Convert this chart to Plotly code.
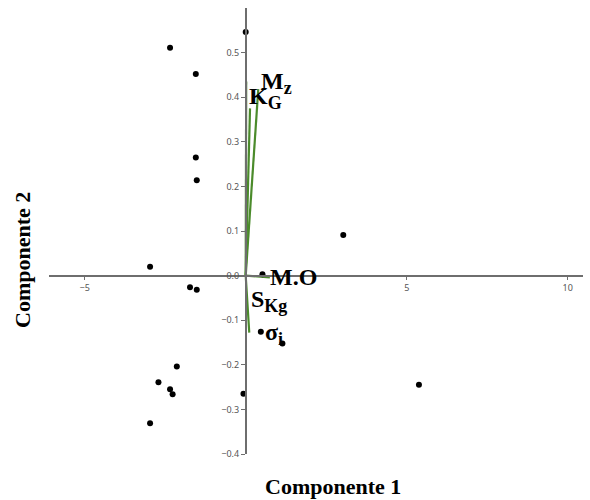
import plotly.graph_objects as go

# Scores (Componente 1, Componente 2)
score_x = [0.0, -2.35, -1.55, -1.55, -1.52, 3.03, -2.97, -1.73, -1.52, -2.14,
           -2.71, -2.35, -2.27, -2.97, -0.07, 0.52, 0.47, 1.14, 5.38]
score_y = [0.546, 0.511, 0.452, 0.265, 0.214, 0.091, 0.020, -0.026, -0.032, -0.204,
           -0.239, -0.255, -0.266, -0.331, -0.265, 0.003, -0.126, -0.152, -0.245]

# Loading vectors
load_names = ["Mz", "KG", "V", "M.O", "SKg"]
load_x = [0.39, 0.134, 0.015, 0.75, 0.11]
load_y = [0.418, 0.375, 0.435, -0.004, -0.128]

# Vector labels
SUB = "<sub><span style='font-size:18px'>{}</span></sub>"
label_text = ["<b>M" + SUB.format("z") + "</b>", "<b>K" + SUB.format("G") + "</b>",
              "<b>M.O</b>", "<b>S" + SUB.format("Kg") + "</b>",
              "<b>σ" + SUB.format("i") + "</b>"]
label_x = [0.42, 0.04, 0.70, 0.09, 0.55]
label_y = [0.432, 0.398, -0.004, -0.058, -0.131]

x_ticks = [-5, 5, 10]
y_ticks = [-0.4, -0.3, -0.2, -0.1, 0.0, 0.1, 0.2, 0.3, 0.4, 0.5]

XMIN, XMAX = -6.109, 10.475
YMIN, YMAX = -0.4, 0.6

fig = go.Figure()
GREEN = "#4b8b2b"
for n, lx, ly in zip(load_names, load_x, load_y):
    fig.add_trace(go.Scatter(x=[0, lx], y=[0, ly], mode="lines",
                             line=dict(color=GREEN, width=2.2), showlegend=False,
                             hoverinfo="skip"))

fig.add_trace(go.Scatter(x=score_x, y=score_y, mode="markers",
                         marker=dict(color="black", size=6), showlegend=False))

for t, lx, ly in zip(label_text, label_x, label_y):
    fig.add_annotation(x=lx, y=ly, text=t, showarrow=False, xanchor="left",
                       yanchor="middle",
                       font=dict(family="Liberation Serif", size=24, color="black"))

AX = "#6e6e6e"
fig.update_xaxes(range=[XMIN, XMAX], anchor="free",
                 position=(0 - YMIN) / (YMAX - YMIN),
                 showline=True, linecolor=AX, linewidth=1.6,
                 showgrid=False, zeroline=False,
                 tickvals=x_ticks, ticks="outside", ticklen=4, tickcolor=AX,
                 tickfont=dict(family="Noto Sans", size=9, color="#555"))
fig.update_yaxes(range=[YMIN, YMAX], anchor="free",
                 position=(0 - XMIN) / (XMAX - XMIN),
                 showline=True, linecolor=AX, linewidth=1.6,
                 showgrid=False, zeroline=False,
                 tickvals=y_ticks, tickformat=".1f", ticks="outside", ticklen=4,
                 tickcolor=AX,
                 tickfont=dict(family="Noto Sans", size=9, color="#555"))

fig.add_annotation(xref="paper", yref="paper", x=(333 - 49) / 534, y=-(486 - 454) / 446,
                   text="<b>Componente 1</b>", showarrow=False, xanchor="center",
                   yanchor="middle",
                   font=dict(family="Liberation Serif", size=22, color="black"))
fig.add_annotation(xref="paper", yref="paper", x=-(49 - 22) / 534, y=(454 - 260) / 446,
                   text="<b>Componente 2</b>", showarrow=False, xanchor="center",
                   yanchor="middle", textangle=-90,
                   font=dict(family="Liberation Serif", size=22, color="black"))

fig.update_layout(width=590, height=500, margin=dict(l=49, r=7, t=8, b=46),
                  plot_bgcolor="white", paper_bgcolor="white")

fig.write_html("out.html")
